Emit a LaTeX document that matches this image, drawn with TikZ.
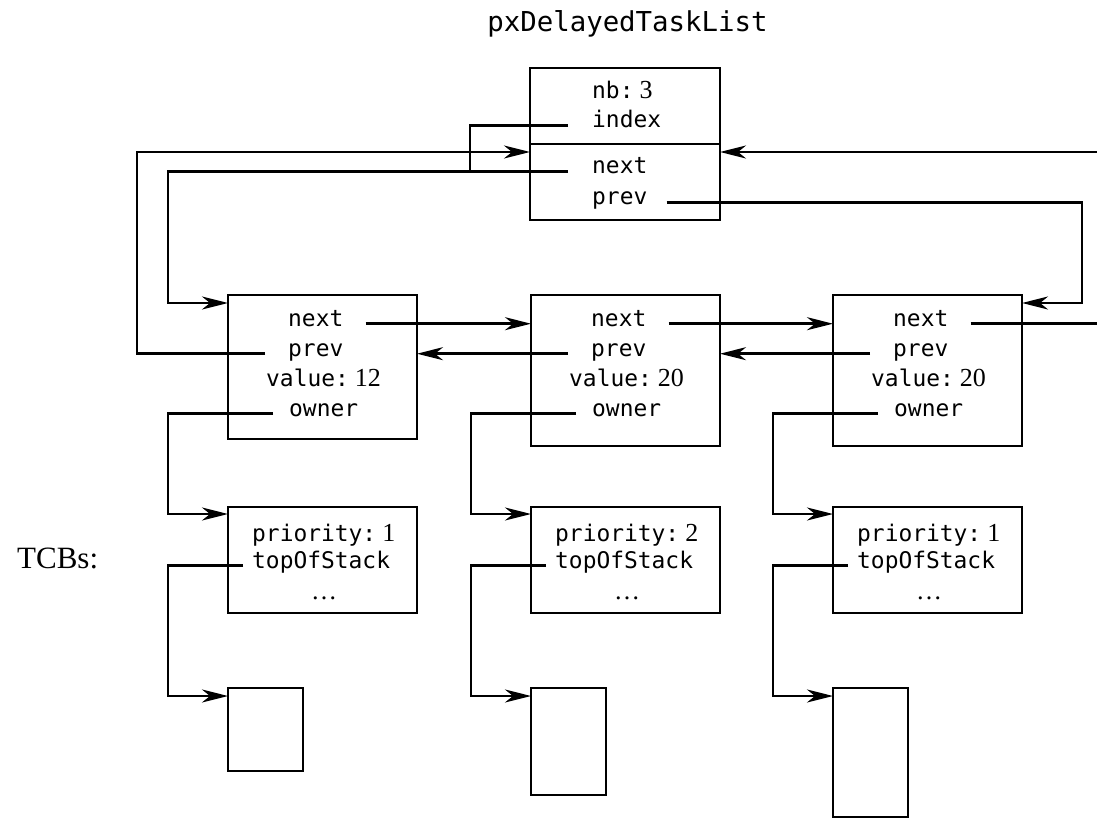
\documentclass[tikz,border=0pt]{standalone}
\usepackage{fontspec}
\setmainfont{Liberation Serif}
\newfontfamily\monof{DejaVu Sans Mono}
\usetikzlibrary{arrows.meta,calc}
\newcommand\numf[1]{{\rmfamily\fontsize{26}{30}\selectfont\hspace{6pt}#1}}
\begin{document}
\begin{tikzpicture}[x=1pt,y=-1pt,
  box/.style={draw,line width=2.6pt,inner sep=0pt,outer sep=0pt,anchor=north west},
  fld/.style={font=\monof\fontsize{22.9}{27}\selectfont,inner sep=0pt,anchor=base west},
  conn/.style={line width=2.6pt},
  arr/.style={conn,-{Stealth[length=26pt,width=13pt,inset=8pt]}}]
\useasboundingbox (0,0) rectangle (1097,818);
% title
\node[fld,font=\monof\fontsize{27.4}{32}\selectfont,anchor=base] (title) at (627.5,32) {pxDelayedTaskList};
% list header
\node[box,minimum width=190pt,minimum height=152pt] (t) at (530,68) {};
\coordinate (dv) at (0,144);
\draw[line width=1.6pt] (t.west |- dv) -- (t.east |- dv);
\node[fld] (tNb) at (592,99) {nb:\numf{3}};
\node[fld] (tIdx) at (592,128) {index};
\node[fld] (tNext) at (592,174) {next};
\node[fld] (tPrev) at (592,205) {prev};
% TCBs label
\node[font=\rmfamily\fontsize{31}{36}\selectfont,inner sep=0pt,anchor=base west] (tcbs) at (17,568) {TCBs:};
% list items, TCBs and stacks
\foreach \i/\L/\h/\v/\p/\sh in {1/228/144/12/1/83, 2/531/151/20/2/107, 3/833/151/20/1/129} {
  \node[box,minimum width=189pt,minimum height=\h pt] (b\i) at (\L,295) {};
  \node[fld] (n\i) at ({\L+60},326) {next};
  \node[fld] (p\i) at ({\L+60},356) {prev};
  \node[fld] (v\i) at ({\L+38},386) {value:\numf{\v}};
  \node[fld] (o\i) at ({\L+61},416) {owner};
  \node[box,minimum width=189pt,minimum height=106pt] (c\i) at (\L,507) {};
  \node[fld] (pr\i) at ({\L+24},541) {priority:\numf{\p}};
  \node[fld] (ts\i) at ({\L+24},568) {topOfStack};
  \node[fld,font=\rmfamily\fontsize{26}{30}\selectfont] (d\i) at ({\L+83},599) {\ldots};
  \node[box,minimum width=75pt,minimum height=\sh pt] (s\i) at (\L,688) {};
}
% helper coordinates
\coordinate (x470) at (470,0);
\coordinate (x168) at (168,0);
\coordinate (x137) at (137,0);
\coordinate (x1082) at (1082,0);
\coordinate (eR1) at (1097,152);
\coordinate (eR2) at (1097,0);
\coordinate (tin) at ($(t.north west)+(0,84)$);
\coordinate (b1in) at ($(b1.north west)+(0,8)$);
\coordinate (b3in) at ($(b3.north east)+(0,8)$);
% header connectors
\draw[conn] ([xshift=-24pt]tIdx.mid west) -| (x470 |- tNext.mid west);
\draw[arr] ([xshift=-24pt]tNext.mid west) -| (x168 |- b1in) -- (b1in);
\draw[arr] ([xshift=-23pt]p1.mid west) -| (x137 |- tin) -- (tin);
\draw[arr] (eR1) -- (eR1 -| t.east);
\draw[arr] ([xshift=19pt]tPrev.mid east) -| (x1082 |- b3in) -- (b3in);
% next / prev chain
\draw[arr] ([xshift=22pt]n1.mid east) -- (n1.mid east -| b2.west);
\draw[arr] ([xshift=22pt]n2.mid east) -- (n2.mid east -| b3.west);
\draw[conn] ([xshift=22pt]n3.mid east) -- (n3.mid east -| eR2);
\draw[arr] ([xshift=-23pt]p2.mid west) -- (p2.mid west -| b1.east);
\draw[arr] ([xshift=-23pt]p3.mid west) -- (p3.mid west -| b2.east);
% owner and stack pointers
\foreach \i in {1,2,3} {
  \draw[arr] ([xshift=-16pt]o\i.mid west) -| ($(c\i.north west)+(-60,7)$) -- ($(c\i.north west)+(0,7)$);
  \draw[arr] ([xshift=-9pt]ts\i.mid west) -| ($(s\i.north west)+(-60,8)$) -- ($(s\i.north west)+(0,8)$);
}
\end{tikzpicture}
\end{document}
